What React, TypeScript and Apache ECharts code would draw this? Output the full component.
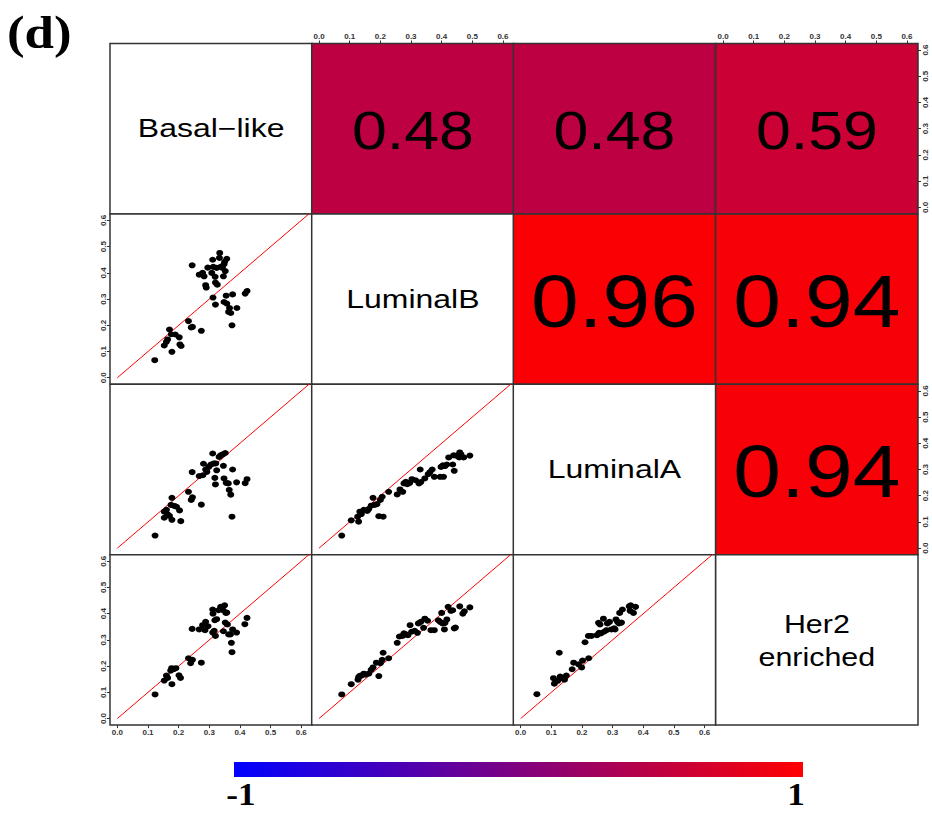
import React, { useEffect, useRef } from 'react';
import * as echarts from 'echarts';

const subtypeLabels = ['Basal−like', 'LuminalB', 'LuminalA', 'Her2\nenriched'];
const tickValues = [0, 0.1, 0.2, 0.3, 0.4, 0.5, 0.6];
// upper triangle correlations: [row, col, r]
const corrCells: [number, number, number][] = [
  [0, 1, 0.48], [0, 2, 0.48], [0, 3, 0.59],
  [1, 2, 0.96], [1, 3, 0.94],
  [2, 3, 0.94],
];
const colorbarLabels = ['-1', '1'];

// lower panels: [x, y]
const lumBvsBasal = [
  [0.122, 0.067], [0.170, 0.184], [0.153, 0.123], [0.160, 0.137], [0.164, 0.146], [0.178, 0.099],
  [0.176, 0.166], [0.189, 0.165], [0.202, 0.154], [0.204, 0.127], [0.208, 0.121], [0.232, 0.216],
  [0.241, 0.192], [0.245, 0.194], [0.274, 0.179], [0.244, 0.429], [0.267, 0.393], [0.278, 0.400],
  [0.283, 0.387], [0.288, 0.353], [0.290, 0.344], [0.295, 0.420], [0.308, 0.400], [0.311, 0.450],
  [0.313, 0.423], [0.319, 0.385], [0.320, 0.363], [0.326, 0.355], [0.324, 0.419], [0.334, 0.476],
  [0.333, 0.457], [0.337, 0.423], [0.343, 0.419], [0.348, 0.433], [0.350, 0.442], [0.357, 0.454],
  [0.346, 0.387], [0.352, 0.407], [0.312, 0.306], [0.320, 0.279], [0.355, 0.313], [0.376, 0.318],
  [0.348, 0.289], [0.357, 0.283], [0.363, 0.251], [0.370, 0.247], [0.366, 0.266], [0.374, 0.200],
  [0.390, 0.266], [0.417, 0.321], [0.423, 0.331],
];
const lumAvsBasal = [
  [0.123, 0.048], [0.178, 0.192], [0.153, 0.139], [0.160, 0.146], [0.164, 0.129], [0.153, 0.116],
  [0.170, 0.123], [0.178, 0.108], [0.186, 0.161], [0.193, 0.158], [0.203, 0.144], [0.207, 0.103],
  [0.175, 0.165], [0.232, 0.215], [0.241, 0.184], [0.245, 0.194], [0.274, 0.166], [0.244, 0.290],
  [0.267, 0.275], [0.279, 0.278], [0.281, 0.322], [0.288, 0.300], [0.292, 0.291], [0.298, 0.310],
  [0.305, 0.319], [0.311, 0.361], [0.315, 0.323], [0.318, 0.268], [0.320, 0.243], [0.324, 0.297],
  [0.332, 0.348], [0.337, 0.354], [0.344, 0.358], [0.352, 0.363], [0.346, 0.314], [0.321, 0.323],
  [0.348, 0.266], [0.355, 0.249], [0.362, 0.247], [0.365, 0.222], [0.370, 0.204], [0.376, 0.300],
  [0.389, 0.251], [0.417, 0.248], [0.423, 0.263], [0.374, 0.120],
];
const her2vsBasal = [
  [0.123, 0.092], [0.153, 0.145], [0.160, 0.164], [0.164, 0.155], [0.177, 0.192], [0.178, 0.131],
  [0.184, 0.188], [0.191, 0.192], [0.201, 0.165], [0.206, 0.155], [0.174, 0.183], [0.232, 0.230],
  [0.239, 0.211], [0.245, 0.224], [0.274, 0.213], [0.244, 0.342], [0.267, 0.340], [0.278, 0.356],
  [0.286, 0.337], [0.288, 0.369], [0.296, 0.352], [0.311, 0.416], [0.312, 0.400], [0.311, 0.328],
  [0.316, 0.335], [0.320, 0.315], [0.318, 0.375], [0.324, 0.379], [0.330, 0.413], [0.337, 0.426],
  [0.345, 0.413], [0.350, 0.432], [0.354, 0.403], [0.357, 0.404], [0.346, 0.333], [0.352, 0.366],
  [0.359, 0.359], [0.363, 0.321], [0.369, 0.321], [0.372, 0.289], [0.374, 0.253], [0.376, 0.340],
  [0.389, 0.328], [0.416, 0.360], [0.423, 0.384],
];
const lumAvsLumB = [
  [0.074, 0.048], [0.105, 0.106], [0.129, 0.101], [0.126, 0.120], [0.133, 0.139], [0.138, 0.130],
  [0.146, 0.146], [0.157, 0.142], [0.162, 0.149], [0.170, 0.162], [0.176, 0.192], [0.181, 0.165],
  [0.189, 0.168], [0.195, 0.122], [0.209, 0.120], [0.200, 0.184], [0.206, 0.196], [0.227, 0.215],
  [0.255, 0.205], [0.264, 0.224], [0.273, 0.215], [0.277, 0.247], [0.283, 0.253], [0.288, 0.244],
  [0.296, 0.249], [0.303, 0.263], [0.315, 0.259], [0.326, 0.247], [0.332, 0.252], [0.330, 0.300],
  [0.345, 0.266], [0.356, 0.282], [0.362, 0.290], [0.369, 0.300], [0.376, 0.272], [0.395, 0.272],
  [0.406, 0.272], [0.398, 0.310], [0.404, 0.316], [0.411, 0.313], [0.417, 0.319], [0.423, 0.346],
  [0.436, 0.319], [0.441, 0.295], [0.439, 0.354], [0.448, 0.353], [0.459, 0.365], [0.463, 0.358],
  [0.472, 0.346], [0.492, 0.353], [0.457, 0.346],
];
const her2vsLumB = [
  [0.074, 0.092], [0.105, 0.131], [0.127, 0.148], [0.129, 0.158], [0.133, 0.163], [0.138, 0.164],
  [0.146, 0.171], [0.151, 0.167], [0.162, 0.171], [0.170, 0.186], [0.176, 0.195], [0.187, 0.213],
  [0.195, 0.162], [0.200, 0.211], [0.206, 0.224], [0.209, 0.251], [0.227, 0.230], [0.255, 0.289],
  [0.262, 0.313], [0.272, 0.315], [0.277, 0.325], [0.283, 0.321], [0.290, 0.318], [0.297, 0.356],
  [0.302, 0.331], [0.312, 0.335], [0.321, 0.327], [0.324, 0.363], [0.332, 0.369], [0.341, 0.346],
  [0.345, 0.381], [0.354, 0.373], [0.365, 0.337], [0.376, 0.337], [0.389, 0.375], [0.400, 0.403],
  [0.395, 0.369], [0.403, 0.363], [0.411, 0.365], [0.417, 0.378], [0.409, 0.340], [0.421, 0.426],
  [0.430, 0.411], [0.436, 0.413], [0.441, 0.344], [0.445, 0.347], [0.459, 0.428], [0.469, 0.400],
  [0.474, 0.409], [0.492, 0.424],
];
const her2vsLumA = [
  [0.053, 0.093], [0.107, 0.154], [0.110, 0.133], [0.121, 0.144], [0.129, 0.160], [0.137, 0.154],
  [0.143, 0.148], [0.149, 0.164], [0.126, 0.251], [0.168, 0.188], [0.173, 0.213], [0.189, 0.207],
  [0.199, 0.195], [0.202, 0.221], [0.222, 0.230], [0.210, 0.291], [0.221, 0.315], [0.231, 0.315],
  [0.249, 0.318], [0.256, 0.327], [0.262, 0.325], [0.254, 0.365], [0.259, 0.359], [0.270, 0.381],
  [0.272, 0.331], [0.280, 0.337], [0.283, 0.363], [0.290, 0.369], [0.296, 0.340], [0.305, 0.344],
  [0.311, 0.378], [0.316, 0.369], [0.321, 0.363], [0.329, 0.366], [0.308, 0.340], [0.323, 0.403],
  [0.332, 0.416], [0.354, 0.428], [0.359, 0.432], [0.357, 0.411], [0.368, 0.403], [0.375, 0.426],
];
// [row, col, data]
const scatterPanels: [number, number, number[][]][] = [
  [1, 0, lumBvsBasal], [2, 0, lumAvsBasal], [3, 0, her2vsBasal],
  [2, 1, lumAvsLumB], [3, 1, her2vsLumB],
  [3, 2, her2vsLumA],
];

const COL_LEFT = [110, 311.7, 513.3, 715.7];
const ROW_TOP = [43.5, 213.9, 384.3, 554.7];
const CELL_W = 202.3;
const CELL_H = 170.4;

function corrColor(r: number) {
  const t = (r + 1) / 2;
  const red = Math.round(255 * t);
  const blue = Math.round(255 * (1 - t));
  return `rgb(${red},0,${blue})`;
}

const tickFont = {
  fontSize: 8,
  fontWeight: 'bold' as const,
  fontFamily: 'Liberation Sans, Arial, sans-serif',
  color: '#333',
};

export default function App() {
  const ref = useRef<HTMLDivElement>(null);
  useEffect(() => {
    if (!ref.current) return;
    const chart = echarts.init(ref.current, undefined, { renderer: 'svg' });
    const grids: any[] = [];
    const xAxes: any[] = [];
    const yAxes: any[] = [];
    const series: any[] = [];
    const graphics: any[] = [];

    for (let r = 0; r < 4; r++) {
      for (let c = 0; c < 4; c++) {
        const i = r * 4 + c;
        const cell = corrCells.find((d) => d[0] === r && d[1] === c);
        grids.push({
          left: COL_LEFT[c],
          top: ROW_TOP[r],
          width: CELL_W,
          height: CELL_H,
          show: true,
          backgroundColor: cell ? corrColor(cell[2]) : '#ffffff',
          borderColor: '#333',
          borderWidth: 1.5,
          z: 0,
        });
        const showX = (r === 3 && (c === 0 || c === 2)) || (r === 0 && (c === 1 || c === 3));
        const showY = (c === 0 && (r === 1 || r === 3)) || (c === 3 && (r === 0 || r === 2));
        xAxes.push({
          gridIndex: i,
          type: 'value',
          show: showX,
          min: -0.024,
          max: 0.636,
          position: r === 0 ? 'top' : 'bottom',
          axisLine: { show: false, onZero: false },
          splitLine: { show: false },
          minorTick: { show: false },
          axisTick: showX
            ? { show: true, customValues: tickValues, length: 3, lineStyle: { color: '#333', width: 1 } }
            : { show: false },
          axisLabel: showX
            ? {
                show: true,
                customValues: tickValues,
                formatter: (v: number) => v.toFixed(1),
                margin: 3,
                ...tickFont,
              }
            : { show: false },
        });
        yAxes.push({
          gridIndex: i,
          type: 'value',
          show: showY,
          min: -0.025,
          max: 0.625,
          position: c === 3 ? 'right' : 'left',
          axisLine: { show: false, onZero: false },
          splitLine: { show: false },
          minorTick: { show: false },
          axisTick: showY
            ? { show: true, customValues: tickValues, length: 3, lineStyle: { color: '#333', width: 1 } }
            : { show: false },
          axisLabel: showY
            ? {
                show: true,
                customValues: tickValues,
                formatter: (v: number) => v.toFixed(1),
                rotate: 90,
                margin: 3,
                ...tickFont,
              }
            : { show: false },
        });
        if (cell) {
          const big = cell[2] > 0.9;
          graphics.push({
            type: 'text',
            x: COL_LEFT[c] + CELL_W / 2,
            y: ROW_TOP[r] + CELL_H / 2 + (big ? 2 : 1),
            scaleX: 1.16,
            z: 100,
            style: {
              text: cell[2].toFixed(2),
              fontSize: big ? 74 : 54,
              fontFamily: 'Liberation Sans, Arial, sans-serif',
              fill: '#000',
              align: 'center',
              verticalAlign: 'middle',
            },
          });
        }
      }
    }

    subtypeLabels.forEach((lab, k) => {
      const lines = lab.split('\n');
      lines.forEach((ln, j) => {
        const offset = (j - (lines.length - 1) / 2) * 33;
        graphics.push({
          type: 'text',
          x: COL_LEFT[k] + CELL_W / 2,
          y: ROW_TOP[k] + CELL_H / 2 + offset,
          scaleX: lines.length > 1 ? 1.17 : 1.28,
          z: 100,
          style: {
            text: ln,
            fontSize: lines.length > 1 ? 26 : 25,
            fontFamily: 'Liberation Sans, Arial, sans-serif',
            fill: '#000',
            align: 'center',
            verticalAlign: 'middle',
          },
        });
      });
    });

    scatterPanels.forEach(([r, c, data]) => {
      const i = r * 4 + c;
      series.push({
        type: 'line',
        xAxisIndex: i,
        yAxisIndex: i,
        data: [[0, 0], [0.7, 0.7]],
        showSymbol: false,
        clip: true,
        silent: true,
        lineStyle: { color: '#ff0000', width: 1 },
        z: 2,
      });
      series.push({
        type: 'scatter',
        xAxisIndex: i,
        yAxisIndex: i,
        data,
        symbol: 'circle',
        symbolSize: [7, 6],
        itemStyle: { color: '#000', opacity: 1 },
        silent: true,
        z: 3,
      });
    });

    // title
    graphics.push({
      type: 'text',
      x: 7,
      y: 33,
      scaleX: 1.15,
      style: {
        text: '(d)',
        fontSize: 46,
        fontWeight: 'bold',
        fontFamily: 'Liberation Serif, Times New Roman, serif',
        fill: '#000',
        align: 'left',
        verticalAlign: 'middle',
      },
    });
    // colorbar
    graphics.push({
      type: 'rect',
      shape: { x: 234, y: 762, width: 569, height: 15 },
      style: {
        fill: new echarts.graphic.LinearGradient(0, 0, 1, 0, [
          { offset: 0, color: '#0000ff' },
          { offset: 1, color: '#ff0000' },
        ]),
      },
    });
    colorbarLabels.forEach((t, k) => {
      graphics.push({
        type: 'text',
        x: k === 0 ? 241 : 796,
        y: 794,
        scaleX: 1.1,
        style: {
          text: t,
          fontSize: 32,
          fontWeight: 'bold',
          fontFamily: 'Liberation Serif, Times New Roman, serif',
          fill: '#000',
          align: 'center',
          verticalAlign: 'middle',
        },
      });
    });

    chart.setOption({
      animation: false,
      backgroundColor: '#ffffff',
      grid: grids,
      xAxis: xAxes,
      yAxis: yAxes,
      series,
      graphic: { elements: graphics },
    });
    return () => chart.dispose();
  }, []);
  return (
    <div
      ref={ref}
      style={{ position: 'fixed', left: 0, top: 0, width: 932, height: 814 }}
    />
  );
}
